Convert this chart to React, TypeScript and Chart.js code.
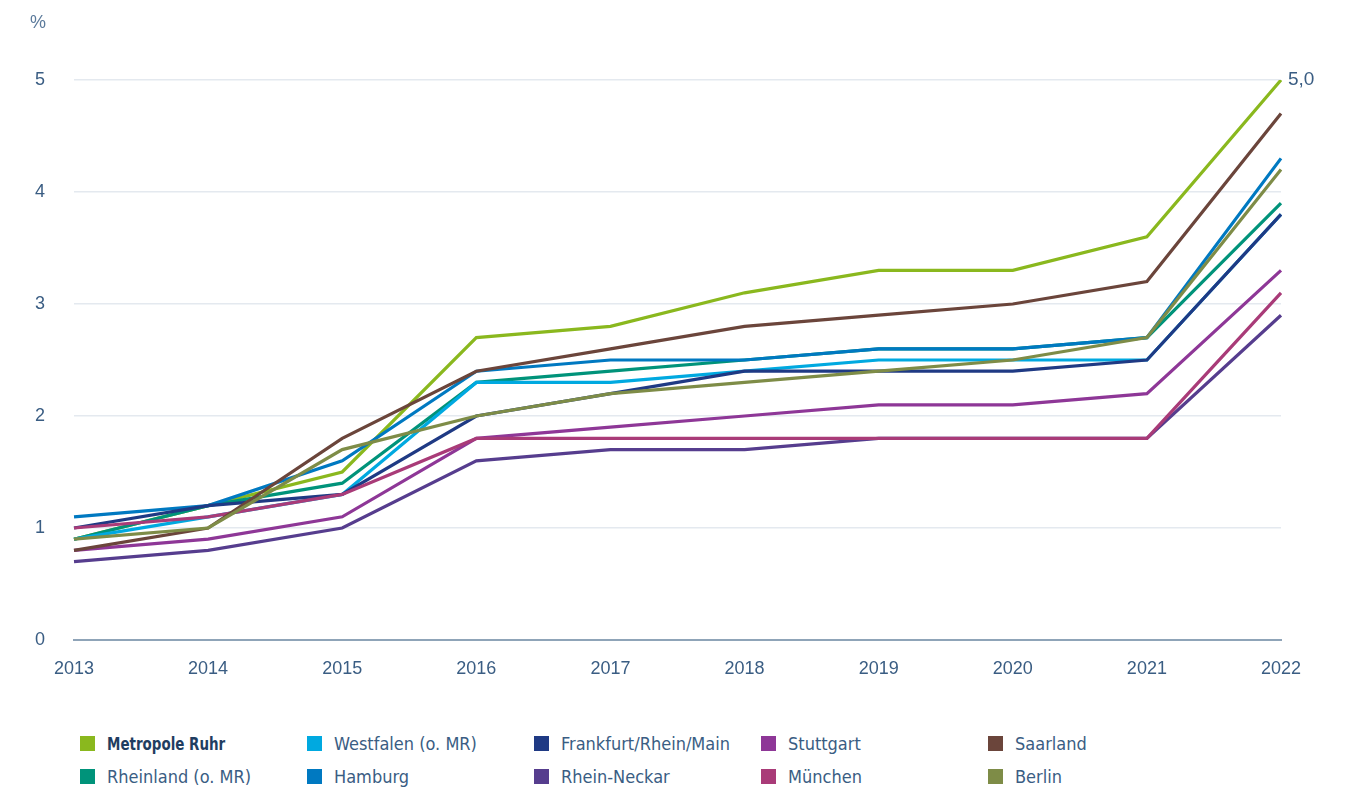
import React, { useEffect, useRef } from "react";
import { Chart, registerables } from "chart.js";

Chart.register(...registerables);

const years = ["2013", "2014", "2015", "2016", "2017", "2018", "2019", "2020", "2021", "2022"];
const yTicks = [0, 1, 2, 3, 4, 5];

const metropoleRuhr = [0.9, 1.2, 1.5, 2.7, 2.8, 3.1, 3.3, 3.3, 3.6, 5.0];
const rheinland = [0.9, 1.2, 1.4, 2.3, 2.4, 2.5, 2.6, 2.6, 2.7, 3.9];
const westfalen = [0.9, 1.1, 1.3, 2.3, 2.3, 2.4, 2.5, 2.5, 2.5, 3.8];
const hamburg = [1.1, 1.2, 1.6, 2.4, 2.5, 2.5, 2.6, 2.6, 2.7, 4.3];
const frankfurt = [1.0, 1.2, 1.3, 2.0, 2.2, 2.4, 2.4, 2.4, 2.5, 3.8];
const rheinNeckar = [0.7, 0.8, 1.0, 1.6, 1.7, 1.7, 1.8, 1.8, 1.8, 2.9];
const stuttgart = [0.8, 0.9, 1.1, 1.8, 1.9, 2.0, 2.1, 2.1, 2.2, 3.3];
const muenchen = [1.0, 1.1, 1.3, 1.8, 1.8, 1.8, 1.8, 1.8, 1.8, 3.1];
const saarland = [0.8, 1.0, 1.8, 2.4, 2.6, 2.8, 2.9, 3.0, 3.2, 4.7];
const berlin = [0.9, 1.0, 1.7, 2.0, 2.2, 2.3, 2.4, 2.5, 2.7, 4.2];

const seriesNames = [
  "Metropole Ruhr", "Rheinland (o. MR)", "Westfalen (o. MR)", "Hamburg", "Frankfurt/Rhein/Main",
  "Rhein-Neckar", "Stuttgart", "München", "Saarland", "Berlin",
];
const seriesValues = [metropoleRuhr, rheinland, westfalen, hamburg, frankfurt, rheinNeckar, stuttgart, muenchen, saarland, berlin];
const seriesColors = ["#8AB81E", "#00937A", "#00A9E0", "#0079C1", "#1F3A84", "#563D8E", "#8E3797", "#A93B78", "#6B453B", "#7E8C47"];

// legend layout (row-major as shown)
const legendRows = [
  [0, 2, 4, 6, 8],
  [1, 3, 5, 7, 9],
];

const TEXT = "#3a5d83";

const annotatePlugin = {
  id: "annotate",
  afterDraw(chart: any) {
    const ctx = chart.ctx;
    ctx.save();
    ctx.font = "18px 'Liberation Sans', Arial, sans-serif";
    ctx.fillStyle = "#5b7a9b";
    ctx.textAlign = "center";
    ctx.textBaseline = "middle";
    ctx.fillText("%", 38, 23);
    const meta = chart.getDatasetMeta(0);
    const last = meta.data[meta.data.length - 1];
    ctx.fillStyle = TEXT;
    ctx.textAlign = "left";
    ctx.font = "19px 'Liberation Sans', Arial, sans-serif";
    const v = metropoleRuhr[metropoleRuhr.length - 1];
    ctx.fillText(v.toFixed(1).replace(".", ","), last.x + 7, last.y);
    ctx.restore();
  },
};

export default function App() {
  const ref = useRef<HTMLCanvasElement | null>(null);
  useEffect(() => {
    if (!ref.current) return;
    const chart = new Chart(ref.current, {
      type: "line",
      data: {
        labels: years,
        datasets: seriesNames.map((name, i) => ({
          label: name,
          data: seriesValues[i],
          borderColor: seriesColors[i],
          backgroundColor: seriesColors[i],
          borderWidth: 3.2,
          pointRadius: 0,
          pointHoverRadius: 0,
          tension: 0,
          fill: false,
          order: seriesNames.length - 1 - i,
        })),
      },
      options: {
        animation: false,
        responsive: false,
        maintainAspectRatio: false,
        layout: { padding: { top: 80, right: 67, left: 0, bottom: 0 } },
        plugins: { legend: { display: false }, tooltip: { enabled: false } },
        scales: {
          x: {
            type: "category",
            offset: false,
            grid: { display: false, drawTicks: false },
            border: { display: true, color: "#8fa4b8", width: 2 },
            ticks: {
              color: TEXT,
              font: { size: 18, family: "'Liberation Sans', Arial, sans-serif" },
              padding: 18,
              maxRotation: 0,
              autoSkip: false,
            },
            afterFit: (s: any) => { s.height = 60; },
          },
          y: {
            min: 0,
            max: 5,
            afterBuildTicks: (s: any) => { s.ticks = yTicks.map((v) => ({ value: v })); },
            grid: { color: "#e4e9ef", lineWidth: 1.5, drawTicks: false },
            border: { display: false },
            ticks: {
              color: TEXT,
              font: { size: 18, family: "'Liberation Sans', Arial, sans-serif" },
              padding: 29,
            },
            afterFit: (s: any) => { s.width = 74; },
          },
        },
      },
      plugins: [annotatePlugin],
    } as any);
    return () => chart.destroy();
  }, []);

  return (
    <div style={{ position: "absolute", left: 0, top: 0, width: 1348, height: 787, background: "#fff", overflow: "hidden" }}>
      <canvas ref={ref} width={1348} height={700} style={{ position: "absolute", left: 0, top: 0, width: 1348, height: 700 }} />
      {legendRows.map((row, r) =>
        row.map((idx, c) => (
          <div
            key={`${r}-${c}`}
            style={{
              position: "absolute",
              left: 80 + c * 227,
              top: 735 + r * 33,
              height: 17,
              display: "flex",
              alignItems: "center",
              whiteSpace: "nowrap",
              fontFamily: "'Liberation Sans Narrow', 'DejaVu Sans Condensed', 'Liberation Sans', Arial, sans-serif",
              fontSize: 18,
              fontWeight: idx === 0 ? 700 : 400,
              color: idx === 0 ? "#1f3d61" : TEXT,
            }}
          >
            <span style={{ display: "inline-block", width: 15, height: 15, background: seriesColors[idx], marginRight: 12 }} />
            <span style={idx === 0 ? { display: "inline-block", transform: "scaleX(0.83)", transformOrigin: "left center" } : undefined}>
              {seriesNames[idx]}
            </span>
          </div>
        ))
      )}
    </div>
  );
}
